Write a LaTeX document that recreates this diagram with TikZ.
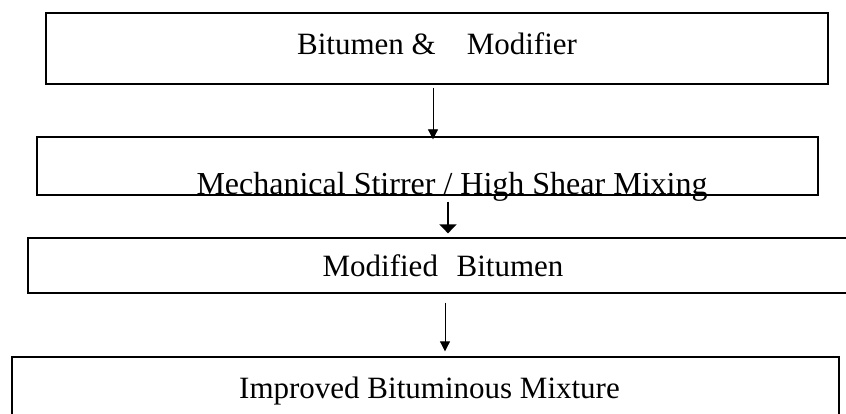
\documentclass[tikz,border=0pt]{standalone}
\usepackage{fontspec}
\setmainfont{Liberation Serif}
\usetikzlibrary{arrows.meta}
\tikzset{
	flowbox/.style={draw, line width=1.3pt, inner sep=0pt, font=\fontsize{31}{36}\selectfont},
	thinarrow/.style={-{Triangle[width=10pt,length=10pt]}, line width=0.8pt},
	thickarrow/.style={-{Triangle[width=17pt,length=9pt]}, line width=1.6pt},
}
\begin{document}
\begin{tikzpicture}[x=1pt, y=1pt]
	\clip (0, 0) rectangle (846, -414);
	\node[flowbox, minimum width=782pt, minimum height=71pt, text height=13pt, text depth=0pt] (input) at (437, -48.5) {Bitumen \&\hspace{1em}Modifier};
	\node[flowbox, minimum width=781pt, minimum height=58pt] (mixing) at (427.5, -166) {};
	\node[font=\fontsize{32}{36}\selectfont, anchor=base, inner sep=0pt] (mixtext) at ([xshift=24.5pt, yshift=1pt]mixing.south) {Mechanical Stirrer / High Shear Mixing};
	\node[flowbox, minimum width=830pt, minimum height=55pt] (modified) at (443, -265.5) {Modified\hspace{0.6em}Bitumen};
	\node[flowbox, minimum width=827pt, minimum height=68pt, text height=14pt, text depth=0pt] (mixture) at (425.5, -391) {\hspace{8pt}Improved Bituminous Mixture};
	% arrows
	\draw[thinarrow, shorten <=3pt, shorten >=-3pt] ([xshift=-4pt]input.south) -- ([xshift=-4pt]input.south |- mixing.north);
	\draw[thickarrow, shorten <=6pt, shorten >=4pt] ([xshift=20.5pt]mixing.south) -- ([xshift=20.5pt]mixing.south |- modified.north);
	\draw[thinarrow, shorten <=9pt, shorten >=5pt] ([xshift=2pt]modified.south) -- ([xshift=2pt]modified.south |- mixture.north);
\end{tikzpicture}
\end{document}
